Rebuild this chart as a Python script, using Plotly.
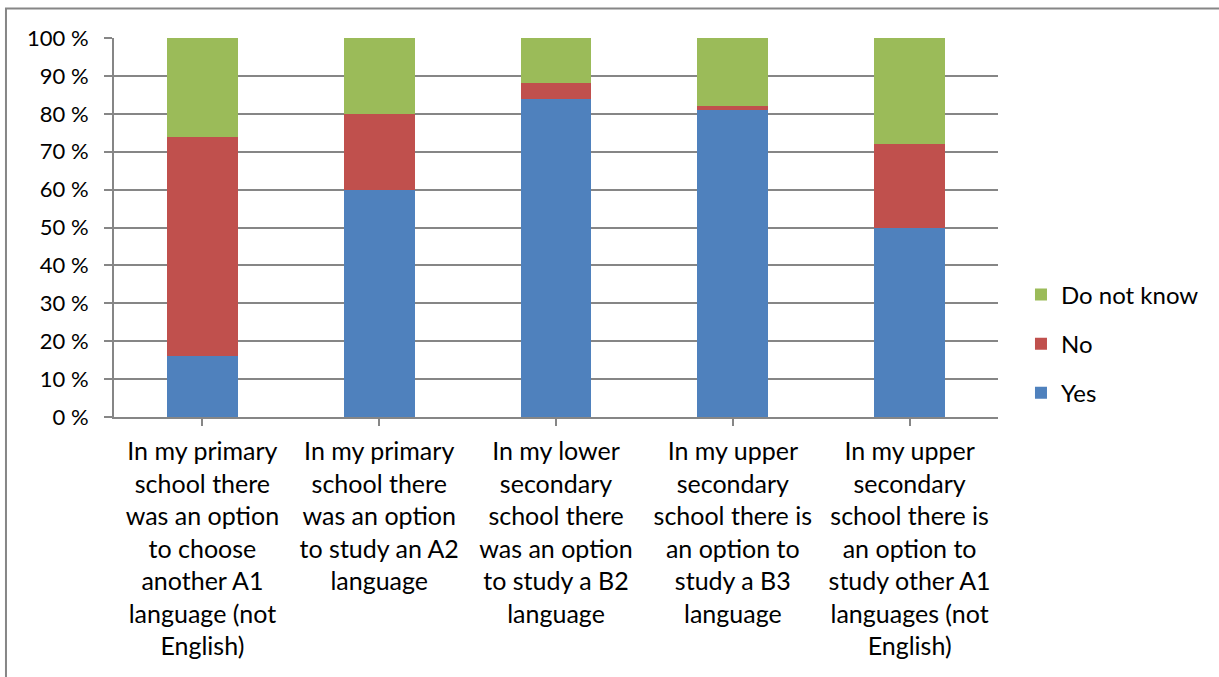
import plotly.graph_objects as go

categories = [
    "In my primary<br>school there<br>was an option<br>to choose<br>another A1<br>language (not<br>English)",
    "In my primary<br>school there<br>was an option<br>to study an A2<br>language",
    "In my lower<br>secondary<br>school there<br>was an option<br>to study a B2<br>language",
    "In my upper<br>secondary<br>school there is<br>an option to<br>study a B3<br>language",
    "In my upper<br>secondary<br>school there is<br>an option to<br>study other A1<br>languages (not<br>English)",
]
yes = [16, 60, 84, 81, 50]
no = [58, 20, 4, 1, 22]
dont_know = [26, 20, 12, 18, 28]

series_names = ["Yes", "No", "Do not know"]
series_values = [yes, no, dont_know]
series_colors = ["#4F81BD", "#C0504D", "#9BBB59"]
legend_ranks = [3, 2, 1]

y_ticks = list(range(0, 101, 10))
y_ticklabels = [f"{v} %" for v in y_ticks]

FONT = "Lato"
fig = go.Figure()
xs = list(range(len(categories)))
for name, vals, col, rk in zip(series_names, series_values, series_colors, legend_ranks):
    fig.add_trace(go.Bar(
        x=xs, y=vals, name=name, marker=dict(color=col, line=dict(width=0)),
        legendgroup=name, legendrank=rk,
    ))

fig.update_layout(
    barmode="stack",
    bargap=0.6,
    width=1219, height=677,
    margin=dict(l=114, r=221, t=38, b=260),
    paper_bgcolor="white", plot_bgcolor="white",
    font=dict(family=FONT, size=22, color="black"),
    legend=dict(
        traceorder="grouped", tracegroupgap=15,
        x=1.026, xanchor="left", y=0.193, yanchor="middle",
        font=dict(family=FONT, size=24), itemwidth=30,
    ),
    xaxis=dict(
        tickmode="array", tickvals=xs, ticktext=categories,
        range=[-0.5, len(categories) - 0.5],
        showline=True, linecolor="#868686", linewidth=2,
        ticks="outside", tickson="boundaries", ticklen=7, tickcolor="#868686", tickwidth=2,
        showgrid=False, tickangle=0, ticklabelstandoff=4,
        tickfont=dict(family=FONT, size=25),
    ),
    yaxis=dict(
        range=[0, 100], tickmode="array", tickvals=y_ticks, ticktext=y_ticklabels,
        showline=True, linecolor="#868686", linewidth=2,
        ticks="outside", ticklen=8, tickcolor="#868686", tickwidth=2,
        showgrid=True, gridcolor="#868686", gridwidth=2,
        zeroline=False, ticklabelstandoff=11,
        tickfont=dict(family=FONT, size=22),
    ),
    shapes=[dict(
        type="rect", xref="paper", yref="paper",
        x0=-0.1222, x1=1.5, y0=-1.0, y1=1.078,
        line=dict(color="#868686", width=2), fillcolor="rgba(0,0,0,0)", layer="below",
    )],
)

fig.write_html("out.html")
